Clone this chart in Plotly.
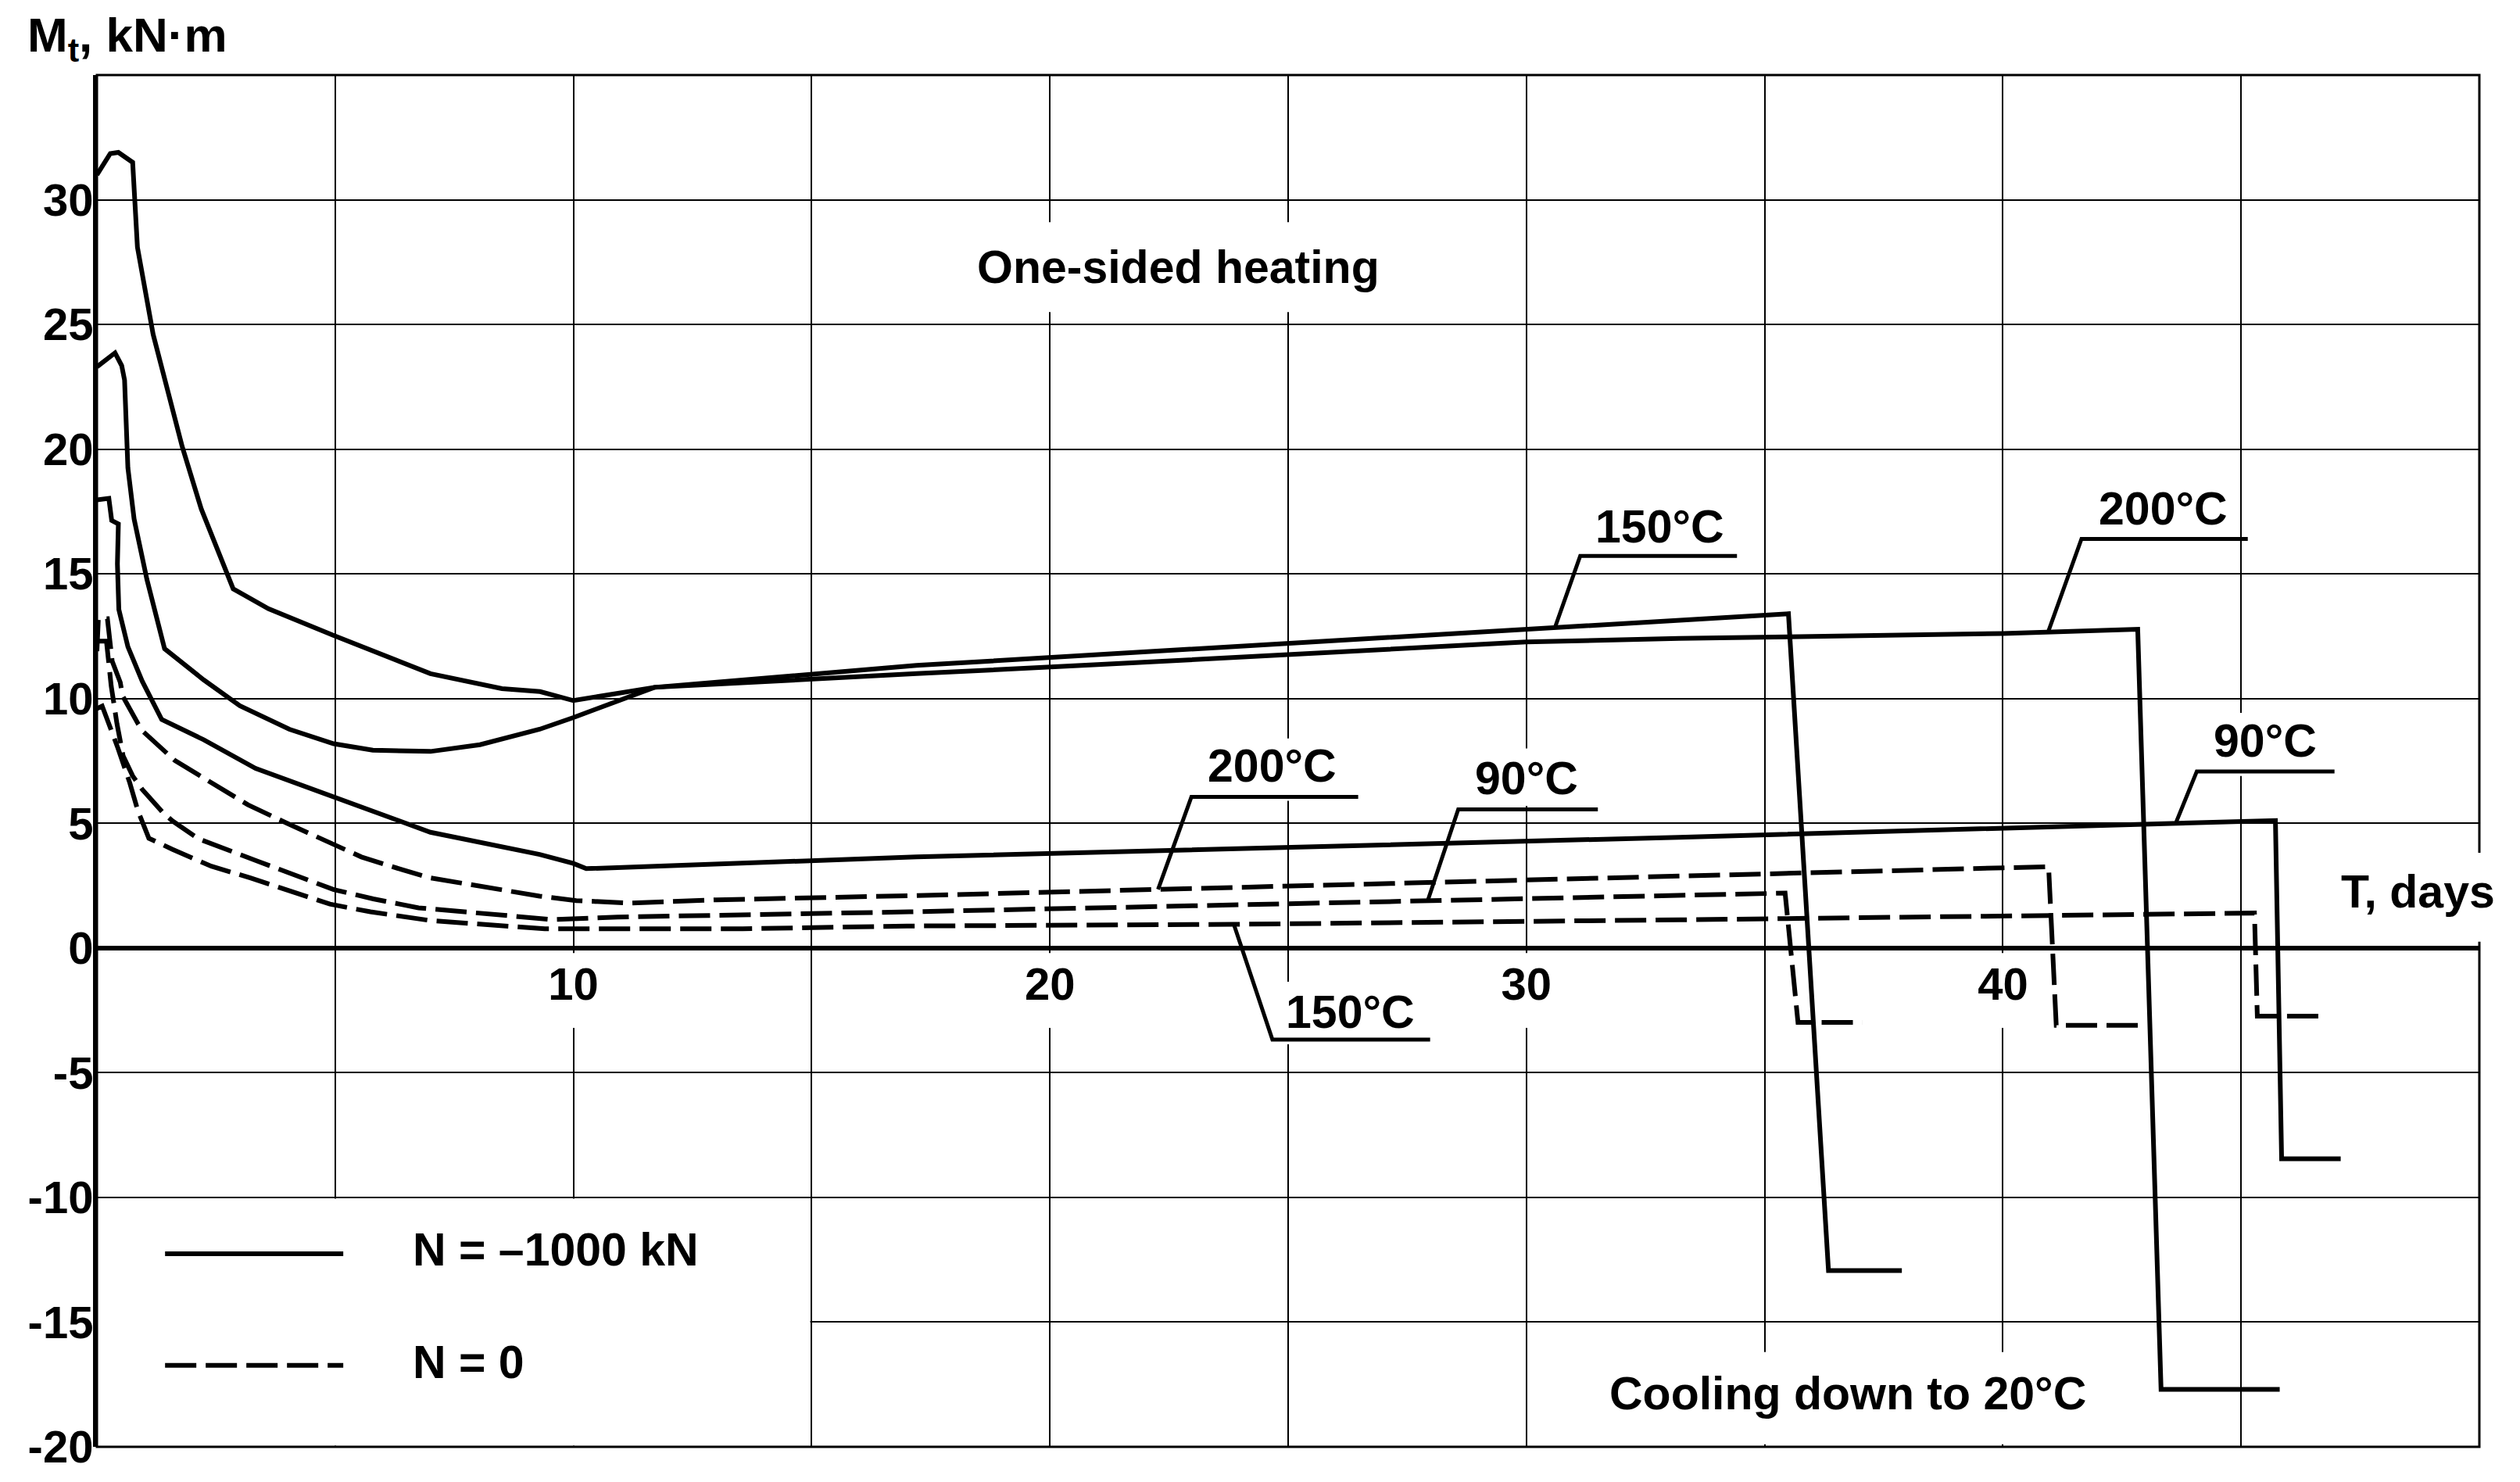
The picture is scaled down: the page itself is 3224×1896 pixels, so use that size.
import plotly.graph_objects as go

FONT = "Liberation Sans, Arial, sans-serif"
INK = "black"
FS_TICK = 58
FS_TEXT = 59
DASH = "40px,12px"
LW = 6

X_MIN, X_MAX = 0, 50
Y_MIN, Y_MAX = -20, 35

# ---- N = -1000 kN (solid lines), T in days, Mt in kN*m ----
t_200_n1000 = [0, 0.28, 0.45, 0.75, 0.85, 1.18, 1.79, 2.19, 2.86, 3.6, 4.97, 7.0, 8.5, 9.3, 10.0,
               11.7, 17.2, 21.0, 30.0, 33.2, 40.0, 42.83, 43.32, 45.81]
m_200_n1000 = [31.0, 31.85, 31.9, 31.5, 28.1, 24.6, 20.1, 17.6, 14.4, 13.6, 12.53, 11.0, 10.4, 10.28, 9.92,
               10.45, 11.0, 11.36, 12.27, 12.41, 12.61, 12.78, -17.7, -17.7]

t_150_n1000 = [0, 0.38, 0.52, 0.58, 0.65, 0.78, 1.05, 1.42, 2.24, 3.0, 4.04, 4.97, 5.79, 7.0, 8.04, 9.29,
               10.0, 11.7, 17.2, 35.5, 36.34, 37.88]
m_150_n1000 = [23.3, 23.86, 23.35, 22.77, 19.25, 17.2, 14.77, 12.0, 10.75, 9.71, 8.77, 8.19, 7.93, 7.88, 8.15, 8.77,
               9.24, 10.45, 11.33, 13.4, -12.93, -12.93]

t_90_n1000 = [0, 0.25, 0.31, 0.45, 0.43, 0.46, 0.65, 0.95, 1.36, 2.24, 3.33, 4.97, 7.0, 9.29, 10.0, 10.27,
              17.2, 33.2, 42.4, 45.72, 45.85, 47.09]
m_90_n1000 = [17.97, 18.03, 17.14, 17.0, 15.4, 13.57, 12.08, 10.7, 9.16, 8.35, 7.2, 6.05, 4.64, 3.75, 3.39, 3.18,
              3.65, 4.44, 4.94, 5.11, -8.45, -8.45]

# ---- N = 0 (dashed lines) ----
t_200_n0 = [0, 0.03, 0.22, 0.26, 0.32, 0.49, 0.54, 0.87, 0.98, 1.64, 2.4, 3.17, 3.99, 4.78, 5.55, 6.42, 7.0,
            9.29, 10.06, 11.2, 13.0, 17.16, 40.96, 41.12, 43.0]
m_200_n0 = [11.9, 13.2, 13.2, 12.3, 11.5, 10.65, 10.1, 8.97, 8.66, 7.51, 6.62, 5.74, 5.0, 4.33, 3.65, 3.13, 2.81,
            2.08, 1.9, 1.8, 1.93, 2.1, 3.26, -3.1, -3.1]

t_90_n0 = [0, 0.2, 0.3, 0.42, 0.55, 0.75, 0.95, 1.39, 1.58, 2.13, 3.36, 4.15, 4.97, 5.8, 6.75, 9.56, 10.93,
           17.05, 27.9, 33.23, 35.43, 35.7, 37.05]
m_90_n0 = [12.3, 12.3, 10.5, 9.0, 7.7, 6.9, 6.36, 5.42, 5.1, 4.38, 3.49, 2.92, 2.34, 1.97, 1.61, 1.14, 1.24,
           1.45, 1.9, 2.09, 2.2, -2.98, -2.98]

t_150_n0 = [0, 0.11, 0.44, 0.69, 0.86, 1.09, 1.58, 2.4, 3.22, 4.04, 4.89, 5.74, 6.58, 7.0, 9.4, 13.55, 17.0,
            23.86, 33.23, 42.41, 45.28, 45.34, 46.71]
m_150_n0 = [9.6, 9.7, 8.02, 6.62, 5.5, 4.4, 3.96, 3.28, 2.81, 2.29, 1.76, 1.45, 1.2, 1.1, 0.77, 0.77, 0.88,
            0.95, 1.13, 1.3, 1.4, -2.73, -2.73]

x_ticks = [10, 20, 30, 40]
x_tick_labels = ["10", "20", "30", "40"]
y_ticks = [-20, -15, -10, -5, 0, 5, 10, 15, 20, 25, 30]
y_tick_labels = ["-20", "-15", "-10", "-5", "0", "5", "10", "15", "20", "25", "30"]

curves = [
    ("200°C, N = -1000 kN", t_200_n1000, m_200_n1000, "solid"),
    ("150°C, N = -1000 kN", t_150_n1000, m_150_n1000, "solid"),
    ("90°C, N = -1000 kN", t_90_n1000, m_90_n1000, "solid"),
    ("200°C, N = 0", t_200_n0, m_200_n0, DASH),
    ("90°C, N = 0", t_90_n0, m_90_n0, DASH),
    ("150°C, N = 0", t_150_n0, m_150_n0, DASH),
]

fig = go.Figure()
for name, t, m, dash in curves:
    fig.add_trace(go.Scatter(x=t, y=m, mode="lines", name=name, showlegend=False,
                             hoverinfo="skip", line=dict(color=INK, width=LW, dash=dash)))


def py(v):
    # data value -> paper fraction on the y axis
    return (v - Y_MIN) / (Y_MAX - Y_MIN)


shapes = []

# white patches that break the grid under the texts (drawn between grid and curves)
gaps = [
    (18.0, 27.4, 25.5, 29.1),      # One-sided heating
    (44.3, 46.7, 6.9, 9.43),       # 90°C solid label
    (23.2, 26.1, 5.9, 8.4),        # 200°C dashed label
    (28.8, 31.2, 5.7, 8.0),        # 90°C dashed label
    (24.9, 27.7, -3.86, -1.35),    # 150°C dashed label
    (31.6, 41.9, -19.9, -16.2),    # cooling text
    (0.0, 14.97, -19.95, -10.05),  # legend area
]
for t in x_ticks:
    gaps.append((t - 0.6, t + 0.6, -3.2, -0.2))
for x0, x1, y0, y1 in gaps:
    shapes.append(dict(type="rect", xref="x", yref="y", x0=x0, x1=x1, y0=y0, y1=y1,
                       fillcolor="white", line=dict(width=0), layer="between"))

# frame
shapes.append(dict(type="rect", xref="paper", yref="paper", x0=0, x1=1, y0=0, y1=1,
                   line=dict(color=INK, width=3), layer="above"))
# frame opening for "T, days"
shapes.append(dict(type="rect", xref="paper", yref="paper", x0=0.995, x1=1.01, y0=py(0.25), y1=py(3.82),
                   fillcolor="white", line=dict(width=0), layer="above"))

# label leaders: slanted tick + underline
leaders = [
    [(30.6, 12.85), (31.13, 15.72), (34.42, 15.72)],
    [(40.96, 12.72), (41.65, 16.4), (45.14, 16.4)],
    [(43.64, 5.06), (44.07, 7.08), (46.96, 7.08)],
    [(22.27, 2.35), (22.97, 6.06), (26.47, 6.06)],
    [(27.93, 1.9), (28.57, 5.56), (31.5, 5.56)],
    [(23.86, 0.95), (24.67, -3.67), (27.98, -3.67)],
]
for pts in leaders:
    path = "M" + " L".join(f"{x},{y}" for x, y in pts)
    shapes.append(dict(type="path", xref="x", yref="y", path=path,
                       line=dict(color=INK, width=5), layer="above"))

# legend keys
shapes.append(dict(type="line", xref="x", yref="y", x0=1.43, x1=5.17, y0=-12.26, y1=-12.26,
                   line=dict(color=INK, width=LW), layer="above"))
shapes.append(dict(type="line", xref="x", yref="y", x0=1.43, x1=5.17, y0=-16.73, y1=-16.73,
                   line=dict(color=INK, width=LW, dash=DASH), layer="above"))

texts = [
    ("One-sided heating", 22.7, 27.3, "center"),
    ("150°C", 32.8, 16.9, "center"),
    ("200°C", 43.37, 17.6, "center"),
    ("90°C", 45.5, 8.3, "center"),
    ("200°C", 24.67, 7.3, "center"),
    ("90°C", 30.0, 6.8, "center"),
    ("150°C", 26.3, -2.57, "center"),
    ("Cooling down to 20°C", 36.75, -17.86, "center"),
    ("T, days", 47.07, 2.25, "left"),
    ("N = –1000 kN", 6.6, -12.1, "left"),
    ("N = 0", 6.6, -16.6, "left"),
]
text_font = dict(size=FS_TEXT, color=INK, family=FONT, weight="bold")
annotations = [dict(text=s, x=x, y=y, xref="x", yref="y", xanchor=xa, yanchor="middle",
                    showarrow=False, font=text_font)
               for s, x, y, xa in texts]
annotations.append(dict(text="M<sub>t</sub>, kN·m", x=-0.03, y=1.027, xref="paper", yref="paper",
                        xanchor="left", yanchor="middle", showarrow=False,
                        font=dict(size=62, color=INK, family=FONT, weight="bold")))

tick_font = dict(size=FS_TICK, family=FONT, color=INK, weight="bold")

fig.update_layout(
    width=3208, height=1878,
    margin=dict(l=116, r=44, t=88, b=35),
    paper_bgcolor="white", plot_bgcolor="white",
    font=dict(family=FONT, size=FS_TICK, color=INK),
    shapes=shapes, annotations=annotations,
    showlegend=False,
)
fig.update_xaxes(range=[X_MIN, X_MAX], tickvals=x_ticks, ticktext=x_tick_labels,
                 showgrid=True, gridcolor=INK, gridwidth=2.4, zeroline=False,
                 minor=dict(tick0=0, dtick=5, showgrid=True, gridcolor=INK, gridwidth=2.4, ticks=""),
                 showline=True, linecolor=INK, linewidth=6, ticks="",
                 anchor="free", position=py(0), automargin=False,
                 ticklabelstandoff=-6, ticklabeloverflow="allow", tickfont=tick_font)
fig.update_yaxes(range=[Y_MIN, Y_MAX], tickvals=y_ticks, ticktext=y_tick_labels,
                 showgrid=True, gridcolor=INK, gridwidth=2.4, zeroline=False,
                 showline=True, linecolor=INK, linewidth=5, ticks="", automargin=False,
                 ticklabelstandoff=-12, ticklabeloverflow="allow", tickfont=tick_font)

fig.write_html("out.html")
